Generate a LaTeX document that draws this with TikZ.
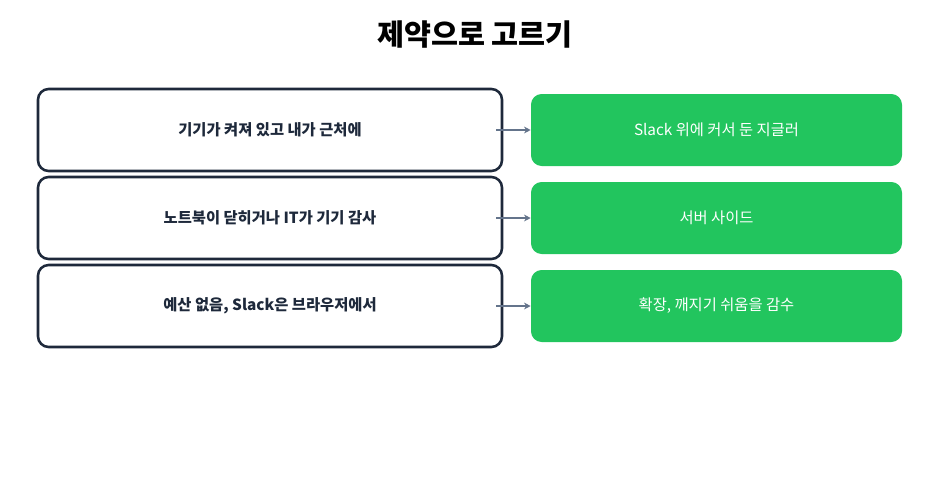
\documentclass[tikz,border=0pt]{standalone}
\usepackage{fontspec}
\setmainfont{Noto Sans CJK KR}
\usetikzlibrary{arrows.meta}
\definecolor{navy}{HTML}{1E293B}
\definecolor{grn}{HTML}{22C55E}
\definecolor{arr}{HTML}{64748B}
\begin{document}
\begin{tikzpicture}[x=0.75pt,y=-0.75pt,
  lbox/.style={draw=navy,line width=1.9pt,rounded corners=8pt,fill=white,minimum width=464*0.75pt,minimum height=82*0.75pt,font=\bfseries\fontsize{11.5}{14}\selectfont,text=navy},
  rbox/.style={fill=grn,rounded corners=8pt,minimum width=371*0.75pt,minimum height=72*0.75pt,font=\fontsize{11.5}{14}\selectfont,text=white},
  con/.style={draw=arr,line width=1.5pt,-{Stealth[length=5pt,width=5pt]}}]
\useasboundingbox (0,0) rectangle (950,482);
\node[font=\bfseries\fontsize{22}{26}\selectfont,text=black] (t) at (475,35) {제약으로 고르기};
\node[lbox] (l1) at (270,130) {기기가 켜져 있고 내가 근처에};
\node[lbox] (l2) at (270,218) {노트북이 닫히거나 IT가 기기 감사};
\node[lbox] (l3) at (270,306) {예산 없음, Slack은 브라우저에서};
\node[rbox] (r1) at (716.5,130) {Slack 위에 커서 둔 지글러};
\node[rbox] (r2) at (716.5,218) {서버 사이드};
\node[rbox] (r3) at (716.5,306) {확장, 깨지기 쉬움을 감수};
\coordinate (a1) at (496,130); \coordinate (a2) at (496,218); \coordinate (a3) at (496,306);
\draw[con] (a1) -- (r1.west);
\draw[con] (a2) -- (r2.west);
\draw[con] (a3) -- (r3.west);
\end{tikzpicture}
\end{document}
